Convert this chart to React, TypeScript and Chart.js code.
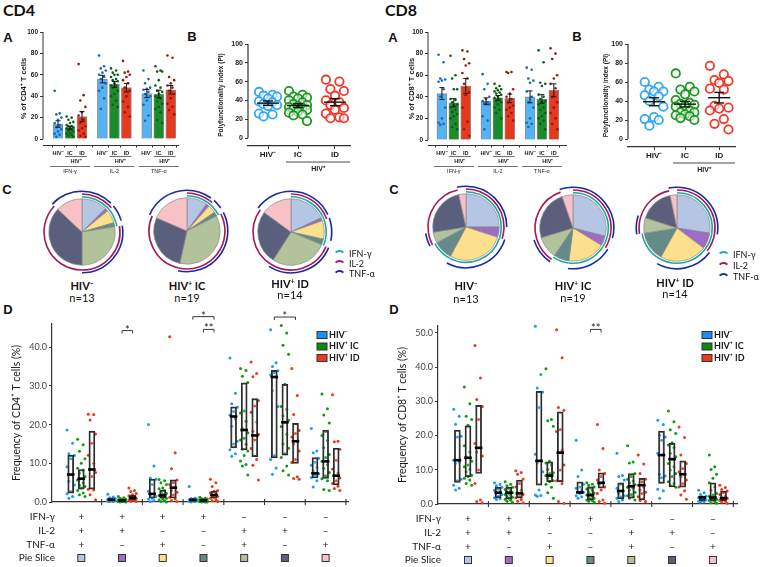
import { useEffect, useRef } from 'react';
import { Chart, registerables } from 'chart.js';

Chart.register(...registerables);

// ---------- shared categories ----------
const GROUPS = ['HIV⁻', 'HIV⁺ IC', 'HIV⁺ ID'];
const CYTOKINES = ['IFN-γ', 'IL-2', 'TNF-α'];
const IFN_POS = [1, 1, 1, 1, 0, 0, 0];
const IL2_POS = [1, 1, 0, 0, 1, 1, 0];
const TNF_POS = [1, 0, 1, 0, 1, 0, 1];
const PIE_N = [13, 19, 14];

// ---------- panel A : % of cells (mean, sem, donors) ----------
const cd4BarMean = [14, 10.5, 21, 56, 51, 48, 42.5, 42, 46];
const cd4BarSem = [3, 1.3, 4.8, 3.5, 2.8, 4, 3.8, 3.6, 4];
const cd4BarDots = [
  [45, 24, 23, 20, 18, 15, 13, 11, 9, 7, 5, 4, 2],
  [21, 20, 18, 16, 15, 13, 12, 12, 11, 10, 10, 9, 8, 7, 6, 5, 4, 3, 2],
  [70, 41, 36, 30, 25, 22, 18, 15, 12, 10, 8, 5, 3, 2],
  [78, 68, 66, 64, 62, 60, 58, 56, 52, 48, 45, 38, 28],
  [66, 64, 62, 60, 60, 58, 56, 55, 54, 52, 50, 50, 48, 45, 42, 40, 36, 32, 30],
  [73, 63, 62, 60, 58, 55, 52, 48, 45, 40, 35, 30, 25, 21],
  [64, 56, 52, 48, 47, 46, 44, 42, 40, 36, 32, 22, 17],
  [68, 64, 63, 63, 55, 50, 48, 45, 44, 42, 40, 38, 35, 33, 30, 28, 25, 18, 15],
  [78, 76, 58, 55, 52, 50, 48, 45, 42, 38, 33, 30, 27, 23],
];
const cd8BarMean = [43, 34.5, 50, 36, 39, 38.5, 40, 38, 46];
const cd8BarSem = [5.5, 3.8, 7, 3, 2.2, 4, 5.5, 4, 6];
const cd8BarDots = [
  [79, 72, 57, 56, 55, 54, 47, 40, 30, 20, 16, 15, 14],
  [78, 60, 57, 47, 47, 38, 37, 35, 33, 32, 30, 28, 26, 24, 22, 20, 15, 12, 10],
  [83, 82, 75, 71, 69, 62, 57, 52, 44, 42, 30, 17, 10, 4],
  [61, 52, 47, 40, 38, 36, 35, 34, 33, 33, 22, 18, 10],
  [52, 50, 48, 47, 46, 45, 44, 43, 42, 40, 39, 38, 36, 35, 33, 30, 28, 25, 20],
  [63, 63, 62, 47, 43, 40, 38, 35, 32, 30, 28, 25, 22, 18],
  [67, 65, 57, 55, 53, 45, 40, 35, 30, 20, 16, 15, 12],
  [83, 72, 53, 52, 50, 42, 40, 38, 36, 35, 33, 30, 28, 25, 22, 20, 18, 15, 10],
  [85, 80, 75, 60, 57, 52, 48, 40, 35, 30, 25, 20, 15, 10],
];

// ---------- panel B : polyfunctionality index ----------
const cd4Pi = [
  [49, 46, 45, 44, 42, 39, 38, 36, 35, 34, 26, 25, 23],
  [50, 46, 44, 43, 42, 40, 38, 36, 35, 34, 33, 32, 31, 30, 28, 27, 25, 24, 18],
  [62, 60, 52, 50, 45, 40, 38, 35, 32, 30, 26, 22, 21, 21],
];
const cd8Pi = [
  [60, 55, 52, 50, 50, 46, 45, 40, 34, 23, 21, 20, 14],
  [69, 55, 52, 50, 47, 41, 38, 37, 36, 35, 34, 30, 28, 28, 26, 25, 24, 22, 20],
  [77, 68, 62, 61, 59, 53, 52, 35, 33, 32, 30, 21, 16, 10],
];

// ---------- panel C : pie slices (% of responding cells) ----------
const cd4PieNeg = [12.5, 1.5, 6.5, 2, 27.5, 37, 13];
const cd4PieIC = [10, 1.5, 4, 2, 36, 28, 18.5];
const cd4PieID = [18, 1.5, 9, 2.8, 27.8, 26, 15];
const cd8PieNeg = [25, 5, 27.8, 9.4, 5.3, 24, 3.5];
const cd8PieIC = [29, 4.7, 18.3, 7.5, 10.8, 24.4, 5.3];
const cd8PieID = [27.5, 7.8, 22.8, 14.4, 7.5, 16.7, 3.3];

// ---------- panel D : subset frequencies (rows = subsets, cols = HIV-, IC, ID) ----------
const cd4BoxLow = [[2.3, 3.3, 3.3], [0.2, 0.1, 0.5], [1, 1, 1], [0.2, 0.1, 1], [14, 13.5, 11.7], [11.4, 12.1, 10], [6.2, 6.1, 4.4]];
const cd4BoxMid = [[7.1, 6, 8.4], [0.6, 0.4, 1.1], [2.1, 1.7, 3.7], [0.5, 0.4, 1.8], [22.1, 18.6, 17.2], [32.3, 20.6, 15.7], [7.4, 10.5, 6.8]];
const cd4BoxHigh = [[12.1, 8.4, 18.3], [0.9, 0.6, 1.8], [5.9, 3.1, 5.7], [0.9, 0.7, 2.8], [24.6, 30.8, 26.7], [34, 30.4, 20.3], [11.5, 18.6, 13.9]];
const cd4FreqDots = [
  [[18.6, 15.2, 12.5, 12, 11.2, 9.1, 7, 5.3, 4.4, 2.7, 2.1, 1.4, 1],
   [16.2, 14.8, 13.1, 11.2, 10, 8.7, 8.3, 7.4, 6.6, 6.1, 5.7, 4.9, 4.3, 4, 3.6, 3, 2.3, 1.9, 1.4],
   [22.7, 22.6, 21.2, 17.6, 15.2, 12.1, 10, 8.4, 7.6, 6.6, 3.3, 3.1, 1.9, 0.6]],
  [[2, 1.3, 1.1, 0.9, 0.8, 0.7, 0.6, 0.5, 0.4, 0.3, 0.2, 0.1, 0.1],
   [1.4, 1.1, 0.9, 0.8, 0.7, 0.6, 0.5, 0.5, 0.4, 0.4, 0.3, 0.3, 0.2, 0.2, 0.1, 0.1, 0.1, 0, 0],
   [3.6, 3, 2.7, 2.2, 1.9, 1.6, 1.3, 1.1, 0.9, 0.7, 0.5, 0.3, 0.2, 0.1]],
  [[20, 9.3, 6.2, 5.9, 4.5, 2.8, 2.1, 1.8, 1.4, 1, 0.8, 0.4, 0.1],
   [5.8, 5.5, 5, 4.5, 3.6, 3.4, 3, 2.5, 2.2, 2, 1.7, 1.5, 1.3, 1, 0.8, 0.5, 0.3, 0.1, 0],
   [42.7, 12.7, 8.6, 5.7, 5, 4.5, 3.7, 3, 2.5, 1.9, 1.2, 0.8, 0.4, 0.1]],
  [[4, 1, 0.9, 0.8, 0.7, 0.6, 0.5, 0.4, 0.3, 0.3, 0.2, 0.1, 0],
   [1.2, 1, 0.9, 0.8, 0.7, 0.6, 0.5, 0.5, 0.4, 0.4, 0.3, 0.3, 0.2, 0.2, 0.1, 0.1, 0, 0, 0],
   [5.9, 5, 4, 3, 2.8, 2.4, 2, 1.8, 1.5, 1.2, 1, 0.6, 0.3, 0.1]],
  [[37.2, 28.1, 25.4, 24.5, 23.4, 22.5, 21.5, 19.6, 15.7, 15, 13.5, 12.5, 11.8],
   [34.5, 34, 32.5, 30.9, 23.5, 23, 20.9, 19, 17.9, 16.5, 16, 14.9, 13.6, 13.2, 12, 10.6, 9.7, 9.3, 7],
   [36.2, 33.2, 32.4, 26.2, 24.8, 23.2, 20.7, 18.3, 17.5, 16, 13.8, 11, 9.5, 5.7]],
  [[44.5, 36, 35, 33.9, 33.4, 32.8, 32.3, 28.8, 24.7, 12, 11, 8.8, 7.2],
   [45.6, 43.7, 40.5, 38.2, 30.4, 24.7, 24, 22.3, 21.1, 20.6, 19.5, 17.5, 15, 13.9, 12.5, 11.5, 9.3, 8.1, 7],
   [34.5, 27.5, 22.6, 18.5, 17.7, 16.8, 15.7, 15, 13.2, 11, 10.2, 6.5, 6.1, 5.9]],
  [[19, 13.2, 12.7, 11.3, 10.3, 9.5, 8.9, 8.1, 7.3, 6.9, 6.3, 5.5, 3.9],
   [27.9, 24.1, 22.5, 20.4, 18.2, 17.2, 15.9, 14, 12.3, 11.5, 10.5, 9.6, 8.7, 7.6, 6.8, 6, 5.5, 3.2, 3],
   [27.7, 15.7, 15.6, 13.6, 10.8, 8.5, 7.5, 6.8, 6.2, 5.5, 4.8, 4.1, 3.5, 3]],
];
const cd8BoxLow = [[6.3, 8, 8.9], [1.8, 1.5, 1.7], [5.5, 6.5, 6.5], [3.1, 1.2, 4.6], [1.5, 1.7, 1.2], [6, 5, 4.9], [1, 1, 1]];
const cd8BoxMid = [[12.8, 13.5, 16.4], [3.3, 3.3, 3.1], [12.6, 8.3, 15], [3.4, 2.6, 6.2], [3.8, 5.2, 5.5], [14.3, 13.1, 8.7], [1.9, 1.9, 1.7]];
const cd8BoxHigh = [[21.6, 22.8, 28.8], [4.9, 4.9, 7], [32.9, 12.3, 26.9], [6.5, 5, 9.1], [6.2, 8.9, 7.5], [21.3, 17.7, 12.6], [2.3, 6.2, 3.8]];
const cd8FreqDots = [
  [[27.7, 25.6, 23.3, 19.8, 19.6, 12.8, 12.3, 11.8, 7.2, 6.8, 5.5, 4.6, 4.1],
   [34.2, 29.3, 25.6, 24.7, 23, 17, 15.2, 13.8, 12.5, 11.4, 10.9, 10.1, 9.4, 8.4, 8, 7.5, 7, 6, 5.5],
   [46.3, 36.8, 30.5, 28.5, 24.7, 17.7, 16.4, 15.2, 14, 9.9, 6, 1.2, 0.7, 0.4]],
  [[6.2, 5.7, 5.3, 4.9, 4.4, 4, 3.5, 3.2, 2.8, 2.3, 1.8, 1.5, 1.3],
   [6.5, 5.8, 5.3, 4.9, 4.6, 4.2, 3.9, 3.5, 3.3, 3, 2.8, 2.5, 2.2, 2, 1.7, 1.4, 1.1, 0.8, 0.5],
   [9.7, 9.2, 8.7, 7.3, 6, 5, 4, 3.3, 2.8, 2.2, 1.8, 1.3, 0.8, 0.4]],
  [[51.9, 37.8, 33.9, 32.7, 28.2, 14.5, 12.6, 12, 9.4, 4.1, 2.6, 2.5, 2.3],
   [39.5, 24.7, 24.3, 22.7, 12.5, 12, 11.4, 10.1, 9.1, 8.9, 8.3, 8, 7.5, 6.8, 6.5, 5.8, 4.9, 3.3, 1.7],
   [50.9, 42.7, 28.2, 27.4, 21.8, 21.2, 15.7, 15, 11.4, 9.9, 6.8, 6, 0.7, 0.2]],
  [[18.6, 9.9, 8, 5.8, 5, 4.6, 4.1, 3.6, 3.4, 3.1, 2.4, 2.1, 1.7],
   [6.2, 5.8, 5.5, 5, 4.7, 4.4, 4, 3.6, 3.2, 2.9, 2.6, 2.3, 2, 1.7, 1.4, 1.2, 1, 0.8, 0.5],
   [23.2, 16.2, 9.9, 8.9, 8, 7, 6.2, 5.8, 5, 4.1, 3.1, 1.2, 0.7, 0.2]],
  [[14.8, 8.3, 8, 7, 5.8, 4.6, 3.8, 3.1, 2.4, 2.1, 1.7, 1.2, 0.7],
   [17, 12.3, 12, 8.9, 8, 7.2, 6.7, 6.2, 5.7, 5.2, 4.9, 4.6, 4.1, 3.4, 2.8, 2.4, 2.1, 1.7, 1.2],
   [14.3, 11.7, 8.9, 7.2, 6.5, 5.5, 5, 4.1, 3.4, 3.1, 2.1, 1.5, 1, 0.7]],
  [[24.5, 23.2, 20.1, 19.6, 18.6, 14.8, 14.3, 8.7, 8.2, 7.7, 4.3, 3.9, 1.7],
   [27.2, 24, 21.7, 20.6, 17.9, 17.2, 16.5, 14.8, 13.8, 13.1, 11.8, 10.9, 9.9, 8.9, 8, 6.5, 6, 5.5, 4.9],
   [22.5, 19.4, 14.3, 11.8, 10.4, 9.4, 8.7, 8, 7, 6, 5, 3.9, 2.6, 1.4]],
  [[4, 3.3, 2.8, 2.3, 2.1, 1.9, 1.6, 1.4, 1.2, 1, 0.8, 0.6, 0.5],
   [14.3, 10.9, 10.1, 8.7, 7.5, 6.2, 5, 4.1, 3.1, 2.6, 2.3, 1.9, 1.7, 1.4, 1.2, 1, 0.7, 0.4, 0.2],
   [5.5, 4.8, 4.2, 3.8, 3.3, 2.8, 2.3, 1.9, 1.7, 1.4, 1.1, 0.8, 0.5, 0.2]],
];
// significance brackets: subset index, compared series, bracket height, label
const cd4Stars = [
  { group: 1, from: 1, to: 2, level: 44.3, label: '*' },
  { group: 3, from: 0, to: 2, level: 47.9, label: '*' },
  { group: 3, from: 1, to: 2, level: 44.6, label: '**' },
  { group: 5, from: 0, to: 2, level: 47.8, label: '*' },
];
const cd8Stars = [{ group: 3, from: 1, to: 2, level: 51, label: '**' }];

// ---------- style ----------
const ARIAL = '"Liberation Sans", Arial, sans-serif';
const CALIBRI = 'Lato, "Open Sans", sans-serif';
const INK = '#1a1a1a';
const BAR_COLORS = ['#55b3f1', '#1b8c2b', '#e63a1f'];
const BAR_DOT_COLORS = ['#1c64b4', '#0b5e18', '#9a1410'];
const PI_COLORS = ['#35a7f0', '#1c981f', '#f0392a'];
const FREQ_COLORS = ['#1e9af2', '#129a12', '#f1361b'];
const LEGEND_FILL = ['#1e8ff0', '#0a8a0a', '#f0361c'];
const SLICE_COLORS = ['#b4c6e4', '#9e6cc4', '#fde08c', '#658a8a', '#b2c39b', '#5b5f7e', '#f8c1c8'];
const RING_COLORS = ['#22a6a2', '#a31a5c', '#1b2a9e'];
const CLEAR = 'rgba(0,0,0,0)';
const SUB = [-0.26, 0, 0.26];

const barSlot = (i: number) => i + Math.floor(i / 3) * 0.7;
const jitter = (j: number, step: number) => (((j * 3) % 5) - 2) * step;
const mean = (a: number[]) => a.reduce((s, v) => s + v, 0) / a.length;
const sem = (a: number[]) => {
  const m = mean(a);
  return Math.sqrt(a.reduce((s, v) => s + (v - m) ** 2, 0) / (a.length - 1) / a.length);
};

const baseOptions = (padding: any) => ({
  animation: false,
  responsive: true,
  maintainAspectRatio: false,
  events: [],
  layout: { padding },
  plugins: { legend: { display: false }, tooltip: { enabled: false } },
});

function line(ctx: any, x1: number, y1: number, x2: number, y2: number) {
  ctx.beginPath();
  ctx.moveTo(x1, y1);
  ctx.lineTo(x2, y2);
  ctx.stroke();
}

// ---------- panel A ----------
function barChart(means: number[], sems: number[], dots: number[][], title: string, f: any) {
  const dotSets = [0, 1, 2].map((s) => ({
    type: 'scatter',
    data: dots.flatMap((vals, i) => (i % 3 === s ? vals.map((v, j) => ({ x: barSlot(i) + jitter(j, 0.14), y: v })) : [])),
    pointRadius: 1.3,
    pointBorderWidth: 0,
    pointBackgroundColor: BAR_DOT_COLORS[s],
    clip: false,
    order: 0,
  }));
  return {
    type: 'bar',
    data: {
      datasets: [
        {
          type: 'bar',
          data: means.map((m, i) => ({ x: barSlot(i), y: m })),
          backgroundColor: means.map((_, i) => BAR_COLORS[i % 3]),
          borderColor: '#8c8c8c',
          borderWidth: 1,
          barThickness: 10,
          grouped: false,
          order: 1,
        },
        ...dotSets,
      ],
    },
    options: {
      ...baseOptions({ left: f.padL, right: f.padR, top: f.padT, bottom: 0 }),
      scales: {
        x: {
          type: 'linear', min: f.xMin, max: f.xMax, offset: false,
          afterFit: (s: any) => { s.height = f.xH; },
          afterBuildTicks: (s: any) => { s.ticks = means.map((_, i) => ({ value: barSlot(i) })); },
          ticks: { display: false },
          grid: { drawOnChartArea: false, tickLength: 2.5, color: '#333' },
          border: { display: true, color: '#333', width: 1 },
        },
        y: {
          min: f.yMin, max: 100,
          afterFit: (s: any) => { s.width = f.yW; },
          afterBuildTicks: (s: any) => { s.ticks = [0, 20, 40, 60, 80, 100].map((value) => ({ value })); },
          ticks: { font: { family: ARIAL, size: 6.5, weight: 'bold' }, color: INK, padding: 2 },
          grid: { drawOnChartArea: false, tickLength: 3, color: '#333' },
          border: { display: false },
          title: { display: true, text: title, font: { family: ARIAL, size: 7.5, weight: 'bold' }, color: INK, padding: 0 },
        },
      },
    },
    plugins: [{
      id: 'barExtras',
      afterDatasetsDraw(chart: any) {
        const { ctx, scales: { x, y } } = chart;
        ctx.save();
        ctx.strokeStyle = '#151515';
        ctx.lineWidth = 1;
        means.forEach((m, i) => {
          const px = x.getPixelForValue(barSlot(i));
          const pt = y.getPixelForValue(m + sems[i]);
          const pb = y.getPixelForValue(m - sems[i]);
          line(ctx, px, pt, px, pb);
          line(ctx, px - 2.5, pt, px + 2.5, pt);
          line(ctx, px - 2.5, pb, px + 2.5, pb);
        });
        ctx.restore();
      },
      afterDraw(chart: any) {
        const { ctx, chartArea, scales: { x, y } } = chart;
        ctx.save();
        ctx.strokeStyle = '#333';
        ctx.lineWidth = 1;
        line(ctx, chartArea.left, y.getPixelForValue(0), chartArea.left, y.getPixelForValue(100));
        ctx.fillStyle = INK;
        ctx.textAlign = 'center';
        ctx.textBaseline = 'middle';
        ctx.lineWidth = 0.7;
        const t = x.top;
        CYTOKINES.forEach((name, g) => {
          const [p0, p1, p2] = [0, 1, 2].map((k) => x.getPixelForValue(barSlot(g * 3 + k)));
          ctx.font = `bold 5.5px ${ARIAL}`;
          ctx.fillText('HIV⁻', p0, t + 8);
          ctx.fillText('IC', p1, t + 8);
          ctx.fillText('ID', p2, t + 8);
          line(ctx, p1 - 5, t + 11.5, p2 + 5, t + 11.5);
          ctx.fillText('HIV⁺', (p1 + p2) / 2, t + 16);
          line(ctx, p0 - 8, t + 21.5, p2 + 8, t + 21.5);
          ctx.font = `5.5px ${ARIAL}`;
          ctx.fillText(name, p1, t + 26.5);
        });
        ctx.restore();
      },
    }],
  };
}

// ---------- panel B ----------
function piChart(values: number[][], slots: number[], f: any) {
  return {
    type: 'scatter',
    data: {
      datasets: values.map((vals, g) => ({
        data: vals.map((v, j) => ({ x: slots[g] + jitter(j, 0.15), y: v })),
        pointRadius: 4.2,
        pointBorderWidth: 1.8,
        pointBorderColor: PI_COLORS[g],
        pointBackgroundColor: 'rgba(255,255,255,0.6)',
        clip: false,
      })),
    },
    options: {
      ...baseOptions({ left: f.padL, right: f.padR, top: f.padT, bottom: 0 }),
      scales: {
        x: {
          type: 'linear', min: f.xMin, max: f.xMax, offset: false,
          afterFit: (s: any) => { s.height = f.xH; },
          afterBuildTicks: (s: any) => { s.ticks = slots.map((value) => ({ value })); },
          ticks: { display: false },
          grid: { drawOnChartArea: false, tickLength: 3, color: '#333' },
          border: { display: true, color: '#333', width: 1.2 },
        },
        y: {
          min: f.yMin, max: 100,
          afterFit: (s: any) => { s.width = f.yW; },
          afterBuildTicks: (s: any) => { s.ticks = [0, 20, 40, 60, 80, 100].map((value) => ({ value })); },
          ticks: { font: { family: ARIAL, size: 7, weight: 'bold' }, color: INK, padding: 2 },
          grid: { drawOnChartArea: false, tickLength: 3, color: '#333' },
          border: { display: false },
          title: { display: true, text: 'Polyfunctionality index (PI)', font: { family: ARIAL, size: 6.5, weight: 'bold' }, color: INK, padding: 0 },
        },
      },
    },
    plugins: [{
      id: 'piExtras',
      afterDatasetsDraw(chart: any) {
        const { ctx, scales: { x, y } } = chart;
        ctx.save();
        ctx.strokeStyle = '#111';
        ctx.lineWidth = 1.4;
        values.forEach((vals, g) => {
          const m = mean(vals);
          const e = sem(vals);
          const px = x.getPixelForValue(slots[g]);
          const [pm, pt, pb] = [m, m + e, m - e].map((v) => y.getPixelForValue(v));
          line(ctx, px - 11, pm, px + 11, pm);
          line(ctx, px, pt, px, pb);
          line(ctx, px - 5, pt, px + 5, pt);
          line(ctx, px - 5, pb, px + 5, pb);
        });
        ctx.restore();
      },
      afterDraw(chart: any) {
        const { ctx, chartArea, scales: { x, y } } = chart;
        ctx.save();
        ctx.strokeStyle = '#333';
        ctx.lineWidth = 1.2;
        line(ctx, chartArea.left, y.getPixelForValue(0), chartArea.left, y.getPixelForValue(100));
        ctx.fillStyle = INK;
        ctx.textAlign = 'center';
        ctx.textBaseline = 'middle';
        ctx.font = `bold 8px ${ARIAL}`;
        const t = x.top;
        const px = slots.map((v) => x.getPixelForValue(v));
        ctx.fillText('HIV⁻', px[0], t + 9);
        ctx.fillText('IC', px[1], t + 9);
        ctx.fillText('ID', px[2], t + 9);
        ctx.lineWidth = 0.9;
        line(ctx, px[1] - 12, t + 16, chartArea.right, t + 16);
        ctx.font = `bold 7px ${ARIAL}`;
        ctx.fillText('HIV⁺', (px[1] - 12 + chartArea.right) / 2, t + 23);
        ctx.restore();
      },
    }],
  };
}

// ---------- panel C ----------
function pieChart(slices: number[]) {
  const ring = (pos: number[], color: string) => ({
    data: slices, backgroundColor: pos.map((p) => (p ? color : CLEAR)), borderWidth: 0, weight: 1.6,
  });
  const gap = (weight: number) => ({ data: [1], backgroundColor: [CLEAR], borderWidth: 0, weight });
  return {
    type: 'pie',
    data: {
      labels: SLICE_COLORS.map((_, i) => `slice ${i + 1}`),
      datasets: [
        gap(3.4),
        ring(TNF_POS, RING_COLORS[2]),
        gap(1.2),
        ring(IL2_POS, RING_COLORS[1]),
        gap(1.1),
        ring(IFN_POS, RING_COLORS[0]),
        gap(1.2),
        { data: slices, backgroundColor: SLICE_COLORS, borderColor: '#8a8a8a', borderWidth: 0.7, weight: 33 },
      ],
    },
    options: baseOptions(0),
  };
}

// ---------- panel D ----------
function freqChart(low: number[][], mid: number[][], high: number[][], dots: number[][][], yMax: number, title: string, stars: any[], f: any) {
  const boxSets = [0, 1, 2].map((s) => ({
    type: 'bar',
    data: low.map((row, g) => ({ x: g + SUB[s], y: [row[s], high[g][s]] })),
    backgroundColor: 'rgba(255,255,255,0.15)',
    borderColor: '#2b2b2b',
    borderWidth: 1.3,
    borderSkipped: false,
    barThickness: 6,
    grouped: false,
    order: 1,
  }));
  const dotSets = [0, 1, 2].map((s) => ({
    type: 'scatter',
    data: dots.flatMap((row, g) => row[s].map((v, j) => ({ x: g + SUB[s] + jitter(j, 0.045), y: v }))),
    pointRadius: 1.5,
    pointBorderWidth: 0,
    pointBackgroundColor: FREQ_COLORS[s],
    clip: false,
    order: 2,
  }));
  const medians = {
    type: 'scatter',
    data: mid.flatMap((row, g) => row.map((v, s) => ({ x: g + SUB[s], y: v }))),
    pointStyle: 'line',
    pointRadius: 3.8,
    pointBorderWidth: 2.6,
    pointBorderColor: '#000',
    clip: false,
    order: 0,
  };
  const tickValues: number[] = [];
  for (let v = 0; v <= yMax; v += 10) tickValues.push(v);
  return {
    type: 'bar',
    data: { datasets: [medians, ...boxSets, ...dotSets] },
    options: {
      ...baseOptions({ left: f.padL, right: f.padR, top: f.padT, bottom: 0 }),
      scales: {
        x: {
          type: 'linear', min: f.xMin, max: f.xMax, offset: false,
          afterFit: (s: any) => { s.height = f.xH; },
          ticks: { display: false },
          grid: { display: false },
          border: { display: true, color: '#333', width: 1.2 },
        },
        y: {
          min: 0, max: yMax,
          afterFit: (s: any) => { s.width = f.yW; },
          afterBuildTicks: (s: any) => { s.ticks = tickValues.map((value) => ({ value })); },
          ticks: { callback: (v: any) => Number(v).toFixed(1), font: { family: CALIBRI, size: 9 }, color: '#444', padding: 2 },
          grid: { drawOnChartArea: false, tickLength: 3, color: '#333' },
          border: { display: true, color: '#333', width: 1.2 },
          title: { display: true, text: title, font: { family: CALIBRI, size: 10.5 }, color: INK, padding: 0 },
        },
      },
    },
    plugins: [{
      id: 'freqExtras',
      afterDraw(chart: any) {
        const { ctx, chartArea, scales: { x, y } } = chart;
        ctx.save();
        ctx.strokeStyle = '#333';
        ctx.lineWidth = 1.1;
        for (let k = 0; k < 7; k++) {
          const px = x.getPixelForValue(k + 0.5);
          line(ctx, px, chartArea.bottom - 3, px, chartArea.bottom + 3);
        }
        // brackets
        ctx.strokeStyle = '#222';
        ctx.fillStyle = '#222';
        ctx.lineWidth = 0.9;
        ctx.textAlign = 'center';
        ctx.textBaseline = 'alphabetic';
        ctx.font = `11px ${CALIBRI}`;
        stars.forEach((b) => {
          const x1 = x.getPixelForValue(b.group + SUB[b.from]);
          const x2 = x.getPixelForValue(b.group + SUB[b.to]);
          const py = y.getPixelForValue(b.level);
          ctx.beginPath();
          ctx.moveTo(x1, py + 3);
          ctx.lineTo(x1, py);
          ctx.lineTo(x2, py);
          ctx.lineTo(x2, py + 3);
          ctx.stroke();
          ctx.fillText(b.label, (x1 + x2) / 2, py + 3);
        });
        // legend
        ctx.textAlign = 'left';
        ctx.textBaseline = 'middle';
        ctx.font = `bold 9px ${CALIBRI}`;
        GROUPS.forEach((name, s) => {
          const ly = f.legY + s * 11.5;
          ctx.fillStyle = LEGEND_FILL[s];
          ctx.fillRect(f.legX, ly - 3.5, 10, 7);
          ctx.strokeStyle = '#333';
          ctx.lineWidth = 1;
          ctx.strokeRect(f.legX, ly - 3.5, 10, 7);
          ctx.fillStyle = INK;
          ctx.fillText(name, f.legX + 12, ly);
        });
        // subset table
        const rows: [string, number[]][] = [['IFN-γ', IFN_POS], ['IL-2', IL2_POS], ['TNF-α', TNF_POS]];
        const rowY = [15, 29, 43, 56].map((d) => chartArea.bottom + d);
        ctx.font = `10px ${CALIBRI}`;
        ctx.fillStyle = INK;
        rows.forEach(([name, pos], r) => {
          ctx.textAlign = 'right';
          ctx.fillText(name, chartArea.left + 3, rowY[r]);
          ctx.textAlign = 'center';
          pos.forEach((p, g) => ctx.fillText(p ? '+' : '–', x.getPixelForValue(g), rowY[r]));
        });
        ctx.textAlign = 'right';
        ctx.fillText('Pie Slice', chartArea.left + 3, rowY[3]);
        SLICE_COLORS.forEach((c, g) => {
          const px = x.getPixelForValue(g);
          ctx.fillStyle = c;
          ctx.fillRect(px - 3.5, rowY[3] - 3.5, 7, 7);
          ctx.strokeStyle = '#333';
          ctx.lineWidth = 1;
          ctx.strokeRect(px - 3.5, rowY[3] - 3.5, 7, 7);
        });
        ctx.restore();
      },
    }],
  };
}

// ---------- components ----------
function ChartBox({ left, top, width, height, make }: any) {
  const ref = useRef<HTMLCanvasElement>(null);
  useEffect(() => {
    if (!ref.current) return;
    const chart = new Chart(ref.current, make());
    return () => chart.destroy();
  }, []);
  return (
    <div style={{ position: 'absolute', left, top, width, height }}>
      <canvas ref={ref} />
    </div>
  );
}

function Txt({ x, y, size, bold, family = ARIAL, left, children }: any) {
  return (
    <div
      style={{
        position: 'absolute', left: x, top: y,
        transform: left ? 'translate(0, -50%)' : 'translate(-50%, -50%)',
        fontFamily: family, fontSize: size, fontWeight: bold ? 700 : 400,
        lineHeight: 1, color: '#111', whiteSpace: 'nowrap',
      }}
    >
      {children}
    </div>
  );
}

const Sup = ({ c }: any) => <sup style={{ fontSize: '0.6em', verticalAlign: '0.6em', lineHeight: 0 }}>{c}</sup>;

function PieLabel({ x, y1, y2, g }: any) {
  return (
    <>
      <Txt x={x} y={y1} size={11} bold family={CALIBRI}>
        HIV<Sup c={g === 0 ? '−' : '+'} />{g === 1 ? ' IC' : g === 2 ? ' ID' : ''}
      </Txt>
      <Txt x={x} y={y2} size={11} family={CALIBRI}>n={PIE_N[g]}</Txt>
    </>
  );
}

function RingLegend({ x, ys }: any) {
  return (
    <>
      {CYTOKINES.map((name, i) => (
        <div key={name}>
          <span
            style={{
              position: 'absolute', left: x, top: ys[i] - 3, width: 13, height: 13, boxSizing: 'border-box',
              border: '2px solid transparent', borderTopColor: RING_COLORS[i], borderRadius: '50%',
            }}
          />
          <Txt x={x + 16} y={ys[i]} size={9} family={CALIBRI} left>{name}</Txt>
        </div>
      ))}
    </>
  );
}

const PieBox = ({ cx, cy, slices }: any) => (
  <ChartBox left={cx - 45} top={cy - 45} width={90} height={90} make={() => pieChart(slices)} />
);

export default function App() {
  return (
    <div style={{ position: 'fixed', left: 0, top: 0, width: 760, height: 567, background: '#fff', overflow: 'hidden' }}>
      {/* headings */}
      <Txt x={3} y={10} size={16} bold family={CALIBRI} left>CD4</Txt>
      <Txt x={385} y={10} size={16} bold family={CALIBRI} left>CD8</Txt>
      <Txt x={8} y={37} size={13} bold>A</Txt>
      <Txt x={192} y={36} size={13} bold>B</Txt>
      <Txt x={393} y={37} size={13} bold>A</Txt>
      <Txt x={577} y={36} size={13} bold>B</Txt>
      <Txt x={7} y={189} size={13} bold>C</Txt>
      <Txt x={394} y={189} size={13} bold>C</Txt>
      <Txt x={8} y={309} size={13} bold>D</Txt>
      <Txt x={394} y={309} size={13} bold>D</Txt>

      {/* panel A */}
      <ChartBox left={0} top={22} width={182} height={156}
        make={() => barChart(cd4BarMean, cd4BarSem, cd4BarDots, '% of CD4⁺ T cells',
          { padL: 19, yW: 24, padR: 4, padT: 10, xH: 33, xMin: -1.25, xMax: 10, yMin: -5.6 })} />
      <ChartBox left={380} top={22} width={190} height={156}
        make={() => barChart(cd8BarMean, cd8BarSem, cd8BarDots, '% of CD8⁺ T cells',
          { padL: 27, yW: 21, padR: 3, padT: 10, xH: 33, xMin: -1.17, xMax: 10.42, yMin: -4.6 })} />

      {/* panel B */}
      <ChartBox left={185} top={22} width={175} height={156}
        make={() => piChart(cd4Pi, [0, 1, 2.23], { padL: 32, yW: 31, padR: 10, padT: 22, xH: 32, xMin: -0.667, xMax: 2.733, yMin: -8.5 })} />
      <ChartBox left={565} top={22} width={190} height={156}
        make={() => piChart(cd8Pi, [0, 1, 2.1], { padL: 37, yW: 26, padR: 20, padT: 22, xH: 31, xMin: -0.84, xMax: 2.61, yMin: -8.4 })} />

      {/* panel C */}
      <PieBox cx={82} cy={232} slices={cd4PieNeg} />
      <PieBox cx={187} cy={231} slices={cd4PieIC} />
      <PieBox cx={291} cy={232} slices={cd4PieID} />
      <PieBox cx={466} cy={227} slices={cd8PieNeg} />
      <PieBox cx={573} cy={228} slices={cd8PieIC} />
      <PieBox cx={677} cy={228} slices={cd8PieID} />
      <PieLabel x={82} y1={285} y2={297} g={0} />
      <PieLabel x={187} y1={285} y2={297} g={1} />
      <PieLabel x={290} y1={283} y2={294} g={2} />
      <PieLabel x={466} y1={285} y2={298} g={0} />
      <PieLabel x={573} y1={285} y2={297} g={1} />
      <PieLabel x={675} y1={282} y2={293} g={2} />
      <RingLegend x={333} ys={[253, 263, 273]} />
      <RingLegend x={717} ys={[254, 265, 276]} />

      {/* panel D */}
      <ChartBox left={0} top={305} width={380} height={262}
        make={() => freqChart(cd4BoxLow, cd4BoxMid, cd4BoxHigh, cd4FreqDots, 46, 'Frequency of CD4⁺ T cells (%)', cd4Stars,
          { padL: 10, yW: 42, padR: 32, padT: 19, xH: 65, xMin: -0.72, xMax: 6.55, legX: 317, legY: 30 })} />
      <ChartBox left={380} top={305} width={380} height={262}
        make={() => freqChart(cd8BoxLow, cd8BoxMid, cd8BoxHigh, cd8FreqDots, 52, 'Frequency of CD8⁺ T cells (%)', cd8Stars,
          { padL: 16, yW: 42, padR: 23, padT: 21, xH: 63, xMin: -0.735, xMax: 6.59, legX: 322, legY: 30 })} />
    </div>
  );
}
